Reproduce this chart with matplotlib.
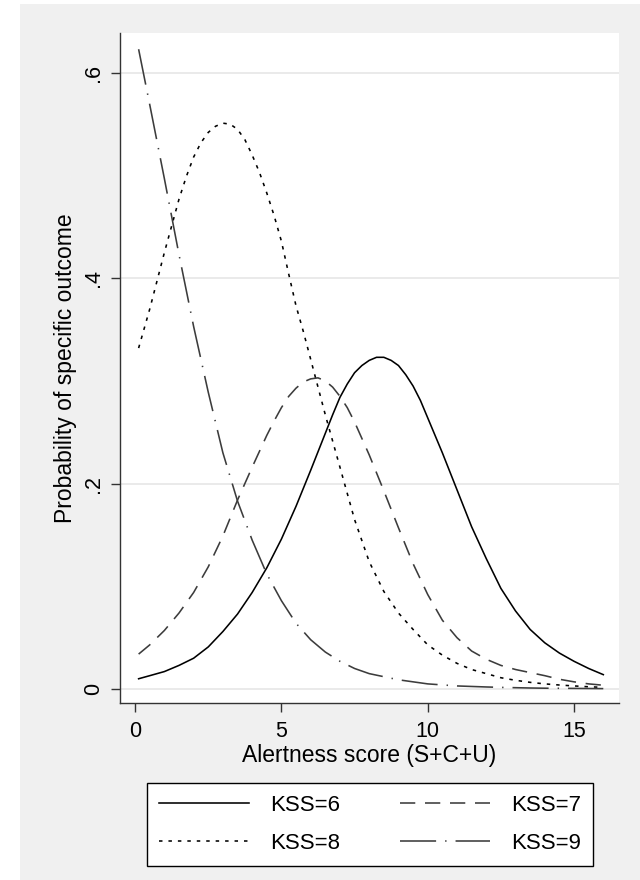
import matplotlib
matplotlib.use("Agg")
import matplotlib.pyplot as plt
from matplotlib.patches import Rectangle

# ---- data ----
x_kss6 = [0.12, 0.5, 1.0, 1.5, 2.0, 2.5, 3.0, 3.5, 4.0, 4.5, 5.0, 5.5, 6.0,
          6.5, 6.75, 7.0, 7.25, 7.5, 7.75, 8.0, 8.25, 8.5, 8.75, 9.0, 9.25,
          9.5, 9.75, 10.0, 10.25, 10.5, 11.0, 11.5, 12.0, 12.5, 13.0, 13.5,
          14.0, 14.5, 15.0, 15.5, 16.0]
kss6 = [0.010, 0.013, 0.017, 0.023, 0.030, 0.041, 0.056, 0.073, 0.094, 0.118,
        0.146, 0.178, 0.213,
        0.249, 0.267, 0.284, 0.297, 0.308, 0.315, 0.320, 0.323, 0.323, 0.320,
        0.315, 0.306, 0.295, 0.281, 0.264, 0.247, 0.230, 0.194, 0.158, 0.127,
        0.098, 0.076, 0.058, 0.045, 0.035, 0.027, 0.020, 0.014]

x_kss7 = [0.12, 0.5, 1.0, 1.5, 2.0, 2.5, 3.0, 3.5, 4.0, 4.5, 4.75, 5.0, 5.25,
          5.5, 5.75, 6.0, 6.25, 6.5, 6.75, 7.0, 7.25, 7.5, 7.75, 8.0, 8.5,
          9.0, 9.5, 10.0, 10.5, 11.0, 11.5, 12.0, 12.5, 13.0, 13.5, 14.0,
          14.5, 15.0, 15.5, 16.0]
kss7 = [0.034, 0.043, 0.057, 0.074, 0.094, 0.119, 0.149, 0.184, 0.216, 0.247,
        0.261, 0.274, 0.285, 0.293, 0.299, 0.302, 0.303, 0.300, 0.294, 0.285,
        0.274, 0.260, 0.244, 0.228, 0.193, 0.157, 0.122, 0.092, 0.067, 0.050,
        0.037, 0.029, 0.023, 0.019, 0.016, 0.013, 0.0095, 0.007, 0.005, 0.0037]

x_kss8 = [0.12, 0.5, 1.0, 1.5, 1.75, 2.0, 2.25, 2.5, 2.75, 3.0, 3.25, 3.5,
          3.75, 4.0, 4.25, 4.5, 4.75, 5.0, 5.25, 5.5, 5.75, 6.0, 6.5, 7.0,
          7.5, 8.0, 8.5, 9.0, 9.5, 10.0, 10.5, 11.0, 11.5, 12.0, 12.5, 13.0,
          13.5, 14.0, 14.5, 15.0, 15.5, 16.0]
kss8 = [0.332, 0.370, 0.425, 0.477, 0.499, 0.518, 0.532, 0.542, 0.548, 0.551,
        0.550, 0.545, 0.535, 0.520, 0.503, 0.483, 0.461, 0.436, 0.404, 0.373,
        0.348, 0.321, 0.267, 0.216, 0.165, 0.124, 0.095, 0.074, 0.058, 0.043,
        0.033, 0.025, 0.019, 0.015, 0.011, 0.0085, 0.0065, 0.005, 0.0039,
        0.003, 0.0022, 0.0016]

x_kss9 = [0.12, 0.5, 1.0, 1.5, 2.0, 2.5, 3.0, 3.5, 4.0, 4.5, 5.0, 5.5, 6.0,
          6.5, 7.0, 7.5, 8.0, 8.5, 9.0, 9.5, 10.0, 10.5, 11.0, 11.5, 12.0,
          12.5, 13.0, 13.5, 14.0, 14.5, 15.0, 15.5, 16.0]
kss9 = [0.623, 0.569, 0.497, 0.423, 0.353, 0.289, 0.230, 0.183, 0.145, 0.112,
        0.086, 0.064, 0.048, 0.036, 0.027, 0.020, 0.015, 0.012, 0.009, 0.007,
        0.005, 0.004, 0.003, 0.0025, 0.002, 0.0016, 0.0013, 0.001, 0.0008,
        0.0007, 0.0006, 0.0005, 0.0004]

series_labels = ["KSS=6", "KSS=7", "KSS=8", "KSS=9"]
x_ticks = [0, 5, 10, 15]
y_ticks = [0, 0.2, 0.4, 0.6]
y_ticklabels = ["0", ".2", ".4", ".6"]
x_title = "Alertness score (S+C+U)"
y_title = "Probability of specific outcome"

# ---- style ----
plt.rcParams['font.family'] = ['Liberation Sans', 'DejaVu Sans']
plt.rcParams['lines.scale_dashes'] = False

W, H = 640, 880
fig = plt.figure(figsize=(6.4, 8.8), dpi=100)
fig.patch.set_facecolor('white')
fig.add_artist(Rectangle((20 / W, 0), 620 / W, 876 / H, transform=fig.transFigure,
                         facecolor='#f0f0f0', edgecolor='none', zorder=-10))

ax_l, ax_r, ax_t, ax_b = 119.6, 619.4, 33.3, 703.3
ax = fig.add_axes([ax_l / W, 1 - ax_b / H, (ax_r - ax_l) / W, (ax_b - ax_t) / H])
ax.set_facecolor('white')

lw = 1.15
l6, = ax.plot(x_kss6, kss6, color='black', lw=lw, linestyle='-', label=series_labels[0], zorder=3)
l7, = ax.plot(x_kss7, kss7, color='#3c3c3c', lw=lw, linestyle=(0, (11, 7)), label=series_labels[1], zorder=3)
l8, = ax.plot(x_kss8, kss8, color='black', lw=lw, linestyle=(0, (2.5, 4.3)), label=series_labels[2], zorder=3)
l9, = ax.plot(x_kss9, kss9, color='#3c3c3c', lw=lw, linestyle=(0, (26, 6.5, 1, 6.5)), label=series_labels[3], zorder=3)

ax.set_xlim(-0.53, 16.55)
ax.set_ylim(-0.0139, 0.6385)
ax.set_xticks(x_ticks)
ax.set_xticklabels([str(t) for t in x_ticks])
ax.set_yticks(y_ticks)
ax.set_yticklabels(y_ticklabels)

ax.yaxis.grid(True, color='#e6e6e6', lw=1.2, zorder=0)
ax.xaxis.grid(False)
ax.set_axisbelow(True)

for s in ['top', 'right']:
    ax.spines[s].set_visible(False)
for s in ['left', 'bottom']:
    ax.spines[s].set_color('#333333')
    ax.spines[s].set_linewidth(1.0)

ax.tick_params(axis='both', direction='out', length=6.5, width=1.0, color='#333333',
               labelsize=15.5, labelcolor='black')
ax.tick_params(axis='x', pad=6.5)
ax.tick_params(axis='y', pad=5.0)
for lab in ax.get_yticklabels():
    lab.set_rotation(90)
    lab.set_va('center')
    lab.set_ha('right')

fig.text(368.9 / W, 1 - 762 / H, x_title, ha='center', va='baseline', fontsize=16.5)
fig.text(66 / W, 1 - 368.3 / H, y_title, ha='center', va='center', rotation=90, fontsize=16.5)

leg = fig.legend([l6, l8, l7, l9],
                 [series_labels[0], series_labels[2], series_labels[1], series_labels[3]],
                 ncol=2, loc='upper left',
                 bbox_to_anchor=(146.7 / W, 1 - 782.7 / H), bbox_transform=fig.transFigure,
                 borderaxespad=0, frameon=True, fancybox=False, edgecolor='black',
                 facecolor='white', framealpha=1, fontsize=16,
                 handlelength=4.05, handletextpad=0.95, columnspacing=2.7,
                 borderpad=0.55, labelspacing=0.75)
leg.get_frame().set_linewidth(1.0)

fig.savefig('out.png', dpi=100, facecolor=fig.get_facecolor())
